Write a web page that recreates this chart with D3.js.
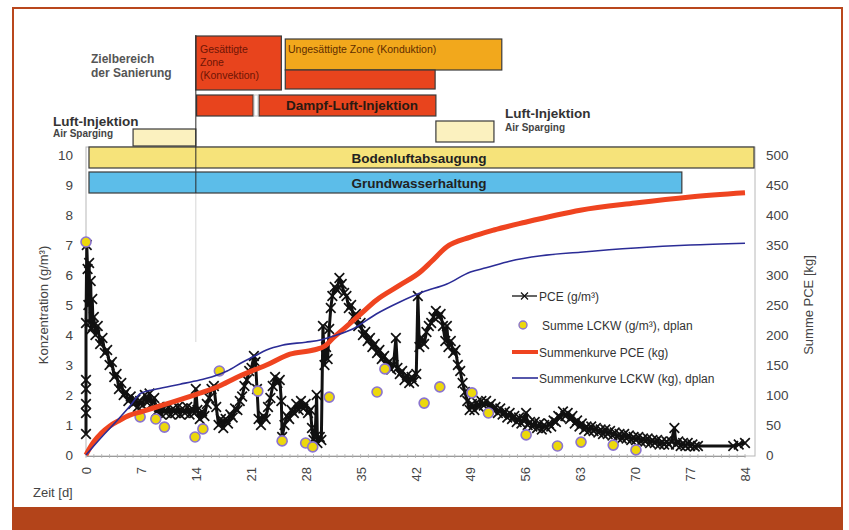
<!DOCTYPE html>
<html>
<head>
<meta charset="utf-8">
<script src="https://cdn.jsdelivr.net/npm/d3@7/dist/d3.min.js"></script>
<style>
  body { margin: 0; background: #fff; }
  svg { display: block; font-family: "Liberation Sans", Arial, sans-serif; }
</style>
</head>
<body>
<div class="canvas"></div>
<script>
// ---- data ----
const xTicks = [0, 7, 14, 21, 28, 35, 42, 49, 56, 63, 70, 77, 84];
const yTicksLeft = [0, 1, 2, 3, 4, 5, 6, 7, 8, 9, 10];
const yTicksRight = [0, 50, 100, 150, 200, 250, 300, 350, 400, 450, 500];

// PCE (g/m3), measured
const pceDay = [0,0,0,0,0,0,0.1,0.2,0.3,0.4,0.5,0.6,0.7,0.8,0.9,1.0,1.2,1.5,1.8,2.1,2.4,2.7,3.0,3.3,3.6,3.9,4.2,4.5,4.8,5.1,5.4,5.7,6.0,6.3,6.6,6.9,7.2,7.5,7.8,8.1,8.4,8.7,9.0,9.3,9.6,9.9,10.2,10.5,10.8,11.1,11.4,11.7,12.0,12.3,12.6,12.9,13.2,13.5,13.8,14.0,14.2,14.5,14.8,15.1,15.4,15.7,16.0,16.3,16.6,16.9,17.2,17.5,17.8,18.1,18.4,18.7,19.0,19.3,19.6,19.9,20.2,20.5,20.8,21.1,21.4,21.6,21.8,22.0,22.3,22.6,22.9,23.2,23.5,23.8,24.1,24.4,24.7,24.9,25.0,25.3,25.6,25.9,26.2,26.5,26.8,27.1,27.4,27.7,28.0,28.3,28.6,28.8,29.0,29.2,29.4,29.5,29.8,30.0,30.2,30.4,30.6,30.8,31.0,31.2,31.4,31.7,32.0,32.3,32.6,32.9,33.2,33.5,33.8,34.1,34.4,34.7,35.0,35.3,35.6,35.9,36.2,36.5,36.8,37.1,37.4,37.7,38.0,38.3,38.6,38.9,39.2,39.5,39.7,40.0,40.3,40.6,40.9,41.2,41.5,41.8,42.1,42.3,42.5,42.8,43.1,43.4,43.7,44.0,44.3,44.6,44.9,45.2,45.5,45.8,46.0,46.2,46.5,46.8,47.1,47.4,47.7,48.0,48.3,48.6,48.9,49.2,49.5,49.8,50.1,50.4,50.7,51.0,51.3,51.6,51.9,52.2,52.5,52.8,53.1,53.4,53.7,54.0,54.3,54.6,54.9,55.2,55.5,55.8,56.1,56.3,56.6,56.9,57.2,57.5,57.8,58.1,58.4,58.7,59.0,59.3,59.6,59.9,60.2,60.5,60.8,61.1,61.4,61.7,62.0,62.3,62.6,62.9,63.2,63.5,63.8,64.1,64.4,64.7,65.0,65.3,65.6,65.9,66.2,66.5,66.8,67.1,67.4,67.7,68.0,68.3,68.6,68.9,69.2,69.5,69.8,70.1,70.4,70.7,71.0,71.3,71.6,71.9,72.2,72.5,72.8,73.1,73.4,73.7,74.0,74.3,74.6,75.0,75.2,75.5,75.8,76.1,76.4,76.7,77.0,77.3,77.6,78.0,82.5,83.2,84.0];
const pceVal = [0.7,1.4,2.5,2.2,1.7,4.4,7.0,6.2,5.0,6.4,4.4,5.8,4.2,5.2,4.3,4.6,4.0,4.3,3.7,3.9,3.4,3.5,3.0,3.1,2.6,2.7,2.2,2.4,2.0,2.1,1.8,1.95,1.7,1.85,1.6,1.8,1.65,2.0,1.75,2.05,1.7,1.9,1.45,1.6,1.35,1.55,1.4,1.6,1.35,1.55,1.4,1.6,1.35,1.55,1.4,1.6,1.35,1.55,1.4,2.2,1.5,1.2,1.45,1.3,1.7,1.9,2.2,2.3,1.6,1.0,1.2,0.9,1.2,1.05,1.35,1.25,1.55,1.5,1.8,1.95,2.3,2.5,2.8,2.9,3.3,3.1,2.2,1.2,1.0,1.3,1.2,1.6,1.9,2.3,2.6,2.4,2.5,1.8,0.6,1.0,1.3,1.2,1.5,1.4,1.7,1.5,1.8,1.55,1.7,1.4,1.5,0.9,0.5,0.6,2.0,0.4,0.6,0.5,4.3,3.0,3.6,3.2,4.2,4.9,5.3,5.6,5.5,5.9,5.7,5.4,5.3,4.9,5.0,4.6,4.7,4.3,4.4,4.0,4.1,3.8,3.9,3.6,3.7,3.4,3.5,3.2,3.3,3.0,3.1,2.85,3.0,3.9,2.9,2.7,2.8,2.5,2.65,2.4,2.6,2.45,2.7,5.3,3.6,3.9,3.7,4.1,4.3,4.4,4.6,4.8,4.6,4.7,4.3,3.8,4.3,3.6,3.8,3.4,3.5,3.0,2.8,2.4,2.1,1.8,1.5,1.7,1.5,1.75,1.6,1.8,1.65,1.8,1.6,1.7,1.5,1.6,1.4,1.55,1.35,1.45,1.25,1.4,1.2,1.3,1.1,1.25,1.05,1.2,1.4,1.0,1.1,0.95,1.1,0.9,1.05,0.85,1.0,0.9,1.05,0.95,1.15,1.1,1.3,1.25,1.45,1.3,1.4,1.2,1.3,1.05,1.15,0.95,1.05,0.85,0.95,0.8,0.95,0.8,0.9,0.75,0.85,0.7,0.85,0.7,0.8,0.65,0.75,0.6,0.7,0.55,0.7,0.55,0.65,0.5,0.6,0.5,0.6,0.45,0.55,0.45,0.55,0.4,0.5,0.4,0.5,0.35,0.45,0.35,0.45,0.35,0.45,0.9,0.35,0.45,0.3,0.4,0.3,0.4,0.3,0.35,0.28,0.3,0.3,0.35,0.4];

// Summe LCKW (g/m3), dplan - single samples
const lckwDay = [0, 6.9, 8.9, 10, 13.9, 14.9, 17, 21.9, 25, 28, 28.9, 31, 37.1, 38.1, 43.1, 45.1, 49.2, 51.3, 56.1, 60.1, 63.1, 67.2, 70.1];
const lckwVal = [7.1, 1.27, 1.2, 0.93, 0.6, 0.87, 2.8, 2.13, 0.47, 0.4, 0.27, 1.93, 2.1, 2.87, 1.73, 2.27, 2.07, 1.4, 0.67, 0.3, 0.43, 0.33, 0.17];

// Summenkurve PCE (kg)
const sumPceDay = [0, 0.5, 1, 2, 3, 4.3, 5.5, 7, 9, 11, 14.5, 17, 19, 21.5, 23, 26, 29, 30.5, 31.5, 33, 35, 37, 40, 42.6, 44, 46, 49, 52, 56, 60, 63, 70, 77, 84];
const sumPceKg = [0, 12, 22, 37, 48, 58, 66, 72, 80, 88, 103, 115, 128, 142, 150, 168, 175, 182, 195, 212, 235, 258, 283, 305, 322, 347, 363, 375, 388, 400, 408, 420, 430, 437];

// Summenkurve LCKW (kg), dplan
const sumLckwDay = [0, 2, 4, 5.5, 7, 9, 12, 14.5, 16, 18, 20, 21.5, 23, 25, 28, 30, 31.5, 34, 37, 40, 43, 46, 49, 51, 54, 58, 63, 70, 77, 84];
const sumLckwKg = [0, 30, 58, 80, 103, 110, 118, 125, 130, 140, 155, 165, 175, 183, 188, 192, 198, 210, 235, 255, 272, 285, 305, 312, 323, 332, 338, 345, 350, 353];

// remediation phases (days)
const phaseLabel = ['Gesättigte Zone (Konvektion)', 'Ungesättigte Zone (Konduktion)', '', '', 'Dampf-Luft-Injektion', '', '', 'Bodenluftabsaugung', 'Grundwasserhaltung'];
const phaseStart = [14.0, 25.4, 25.4, 14.1, 22.05, 6.0, 44.6, 0.38, 0.38];
const phaseEnd = [24.9, 53.0, 44.5, 21.3, 44.6, 14.0, 52.0, 85.15, 75.95];

// ---- layout ----
const W = 849, H = 530;
const svg = d3.select('.canvas').append('svg').attr('width', W).attr('height', H);

const x = d3.scaleLinear().domain([0, 84]).range([86, 745]);
const yL = d3.scaleLinear().domain([0, 10]).range([455, 155]);
const yR = d3.scaleLinear().domain([0, 500]).range([455, 155]);

// outer frame + bottom band
svg.append('rect').attr('x', 13).attr('y', 8).attr('width', 829).attr('height', 500)
  .attr('fill', 'none').attr('stroke', '#b9471d').attr('stroke-width', 2);
svg.append('rect').attr('x', 12).attr('y', 507).attr('width', 831).attr('height', 23).attr('fill', '#b3441a');

// phase bar styles, one per phase
const phaseStyle = [
  { y0: 36, y1: 90, fill: '#e8441d' },
  { y0: 39, y1: 70, fill: '#f2a81c' },
  { y0: 70, y1: 89, fill: '#e8441d' },
  { y0: 95, y1: 116, fill: '#e8441d' },
  { y0: 95, y1: 116, fill: '#e8441d' },
  { y0: 129, y1: 146, fill: '#fbf1bf' },
  { y0: 121, y1: 142, fill: '#fbf1bf' },
  { y0: 147, y1: 168, fill: '#f6e37a' },
  { y0: 172, y1: 193, fill: '#5cbde9' }
];

// faint plot frame
svg.append('rect').attr('x', 86).attr('y', 147).attr('width', 669).attr('height', 309)
  .attr('fill', 'none').attr('stroke', '#b8b8b8').attr('stroke-width', 1);
svg.append('line').attr('x1', x(14)).attr('x2', x(14)).attr('y1', 193).attr('y2', 342)
  .attr('stroke', '#d6d6d6').attr('stroke-width', 1);

const bars = svg.append('g');
bars.selectAll('rect').data(phaseStart).join('rect')
  .attr('x', (d, i) => x(d))
  .attr('y', (d, i) => phaseStyle[i].y0)
  .attr('width', (d, i) => x(phaseEnd[i]) - x(d))
  .attr('height', (d, i) => phaseStyle[i].y1 - phaseStyle[i].y0)
  .attr('fill', (d, i) => phaseStyle[i].fill)
  .attr('stroke', '#3a3a3a').attr('stroke-width', 1.2);

// small gap marker between the two steam-air injection parts
svg.append('rect').attr('x', x(21.3) + 1).attr('y', 95).attr('width', x(22.05) - x(21.3) - 2).attr('height', 21)
  .attr('fill', '#fff').attr('stroke', '#c8c8c8').attr('stroke-width', 1);

// day-14 marker line through the bars
svg.append('line').attr('x1', x(14)).attr('x2', x(14)).attr('y1', 35).attr('y2', 193)
  .attr('stroke', '#2a2a2a').attr('stroke-width', 1);

// bar texts
const txt = (t, px, py, size, weight, fill, anchor) => svg.append('text')
  .attr('x', px).attr('y', py).attr('font-size', size).attr('font-weight', weight)
  .attr('fill', fill).attr('text-anchor', anchor || 'start').text(t);

const gz = phaseLabel[0].split(' ');
txt(gz[0], 200, 53, 10.5, 'normal', '#6e1505');
txt(gz[1], 200, 66, 10.5, 'normal', '#6e1505');
txt(gz[2], 200, 79, 10.5, 'normal', '#6e1505');
txt(phaseLabel[1], 288, 53, 10.5, 'normal', '#5e2d00');
txt(phaseLabel[4], 352, 110, 13.5, 'bold', '#2a1a12', 'middle');
txt(phaseLabel[7], 419, 163, 13.5, 'bold', '#222', 'middle');
txt(phaseLabel[8], 419, 188, 13.5, 'bold', '#222', 'middle');

txt('Zielbereich', 91, 63, 12, 'bold', '#555');
txt('der Sanierung', 91, 77, 12, 'bold', '#555');
txt('Luft-Injektion', 53, 126, 13.5, 'bold', '#333');
txt('Air Sparging', 53, 137, 10, 'bold', '#444');
txt('Luft-Injektion', 505, 118, 13.5, 'bold', '#333');
txt('Air Sparging', 505, 131, 10, 'bold', '#444');

// ---- axes ----
const gx = svg.append('g').attr('transform', 'translate(0,456)')
  .call(d3.axisBottom(x).tickValues(xTicks).tickSize(0).tickFormat(d3.format('d')));
gx.select('.domain').attr('stroke', '#9a9a9a');
gx.selectAll('text').attr('font-size', 13).attr('fill', '#444')
  .attr('text-anchor', 'end').attr('transform', 'translate(0,11) rotate(-90)')
  .attr('x', 0).attr('y', 0).attr('dy', '0.35em');
// minor day ticks on x axis
svg.append('g').selectAll('line').data(d3.range(0, 85, 1)).join('line')
  .attr('x1', d => x(d)).attr('x2', d => x(d)).attr('y1', 454).attr('y2', 458)
  .attr('stroke', '#b0b0b0').attr('stroke-width', 0.8);

const gyl = svg.append('g').attr('transform', 'translate(77,0)')
  .call(d3.axisLeft(yL).tickValues(yTicksLeft).tickSize(0).tickPadding(4));
gyl.select('.domain').remove();
gyl.selectAll('text').attr('font-size', 13.5).attr('fill', '#444');

const gyr = svg.append('g').attr('transform', 'translate(762,0)')
  .call(d3.axisRight(yR).tickValues(yTicksRight).tickSize(0).tickPadding(4));
gyr.select('.domain').remove();
gyr.selectAll('text').attr('font-size', 13.5).attr('fill', '#444');

svg.append('text').attr('transform', 'translate(48,305) rotate(-90)').attr('text-anchor', 'middle')
  .attr('font-size', 13).attr('fill', '#444').text('Konzentration (g/m³)');
svg.append('text').attr('transform', 'translate(813,305) rotate(-90)').attr('text-anchor', 'middle')
  .attr('font-size', 13).attr('fill', '#444').text('Summe PCE [kg]');
svg.append('text').attr('x', 33).attr('y', 497).attr('font-size', 13).attr('fill', '#444').text('Zeit [d]');

// ---- series ----
const plot = svg.append('g');
const pce = pceDay.map((d, i) => [d, pceVal[i]]);
const xMark = s => `M${-s},${-s}L${s},${s}M${-s},${s}L${s},${-s}`;

plot.append('path').datum(pce)
  .attr('fill', 'none').attr('stroke', '#111').attr('stroke-width', 3).attr('stroke-linejoin', 'round')
  .attr('d', d3.line().x(d => x(d[0])).y(d => yL(d[1])));
plot.append('g').selectAll('path').data(pce).join('path')
  .attr('transform', d => `translate(${x(d[0])},${yL(d[1])})`)
  .attr('d', xMark(4.8)).attr('stroke', '#111').attr('stroke-width', 1.7).attr('fill', 'none');

plot.append('g').selectAll('circle').data(lckwDay).join('circle')
  .attr('cx', d => x(d)).attr('cy', (d, i) => yL(lckwVal[i])).attr('r', 5)
  .attr('fill', '#ecd80c').attr('stroke', '#8b74cf').attr('stroke-width', 1.6);

plot.append('path').datum(sumPceDay.map((d, i) => [d, sumPceKg[i]]))
  .attr('fill', 'none').attr('stroke', '#ef4420').attr('stroke-width', 5).attr('stroke-linejoin', 'round')
  .attr('d', d3.line().curve(d3.curveMonotoneX).x(d => x(d[0])).y(d => yR(d[1])));

plot.append('path').datum(sumLckwDay.map((d, i) => [d, sumLckwKg[i]]))
  .attr('fill', 'none').attr('stroke', '#2b2c96').attr('stroke-width', 1.6)
  .attr('d', d3.line().curve(d3.curveMonotoneX).x(d => x(d[0])).y(d => yR(d[1])));

// ---- legend ----
const lg = svg.append('g').attr('transform', 'translate(512,0)');
const legendY = [296, 325, 352, 378];
const legendText = ['PCE (g/m³)', 'Summe LCKW (g/m³), dplan', 'Summenkurve PCE (kg)', 'Summenkurve LCKW (kg), dplan'];
lg.append('line').attr('x1', 0).attr('x2', 25).attr('y1', legendY[0]).attr('y2', legendY[0]).attr('stroke', '#111').attr('stroke-width', 1.3);
lg.append('path').attr('transform', `translate(12.5,${legendY[0]})`).attr('d', xMark(3.5)).attr('stroke', '#111').attr('stroke-width', 1.2);
lg.append('circle').attr('cx', 11).attr('cy', legendY[1]).attr('r', 4).attr('fill', '#ecd80c').attr('stroke', '#8b74cf').attr('stroke-width', 1.4);
lg.append('line').attr('x1', 0).attr('x2', 26).attr('y1', legendY[2]).attr('y2', legendY[2]).attr('stroke', '#ef4420').attr('stroke-width', 4);
lg.append('line').attr('x1', 0).attr('x2', 26).attr('y1', legendY[3]).attr('y2', legendY[3]).attr('stroke', '#2b2c96').attr('stroke-width', 1.6);
lg.selectAll('text').data(legendText).join('text')
  .attr('x', (d, i) => i === 1 ? 30 : 27).attr('y', (d, i) => legendY[i] + 4.5)
  .attr('font-size', 12).attr('fill', '#333').text(d => d);
</script>
</body>
</html>
